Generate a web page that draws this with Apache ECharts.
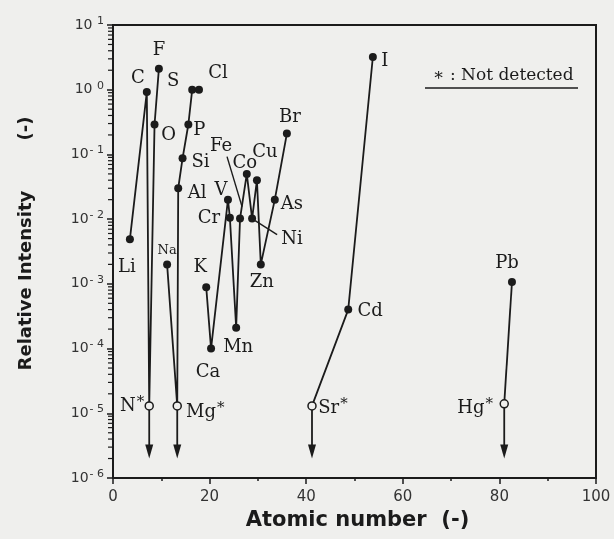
<!DOCTYPE html>
<html>
<head>
<meta charset="utf-8">
<script src="https://cdn.jsdelivr.net/npm/echarts@6/dist/echarts.min.js"></script>
<style>
html,body{margin:0;padding:0;background:#efefed;}
#chart{width:614px;height:539px;}
</style>
</head>
<body>
<div id="chart"></div>
<script>
// ---- data ----
const elements  = ['Li','C','N','O','F','Na','Mg','Al','Si','P','S','Cl','K','Ca','V','Cr','Mn','Fe','Co','Ni','Cu','Zn','As','Br','Sr','Cd','I','Hg','Pb'];
const atomicPos = [3.5,7.0,7.5,8.6,9.5,11.2,13.3,13.5,14.4,15.6,16.4,17.8,19.3,20.3,23.8,24.2,25.5,26.3,27.7,28.8,29.8,30.6,33.5,36.0,41.2,48.7,53.8,81.0,82.6];
const intensity = [4.9e-3,0.92,1.3e-5,0.29,2.1,2.0e-3,1.3e-5,0.030,0.087,0.29,1.0,1.0,8.9e-4,1.0e-4,0.020,0.0105,2.1e-4,0.0102,0.050,0.0102,0.040,2.0e-3,0.020,0.21,1.3e-5,4.0e-4,3.2,1.4e-5,1.07e-3];
const detected  = [1,1,0,1,1,1,0,1,1,1,1,1,1,1,1,1,1,1,1,1,1,1,1,1,0,1,1,0,1];
const chainId   = [0,0,0,0,0,1,1,1,1,1,1,1,2,2,2,2,2,2,2,2,2,2,2,2,3,3,3,4,4];
const arrowFloor = 2e-6;          // arrows of the "not detected" points end here
const xTicks = [0,20,40,60,80,100];
const yExponents = [-6,-5,-4,-3,-2,-1,0,1];

// ---- styling (label offsets in px) ----
const labelOffset = {Li:[-3,28],C:[-9,-14],N:[-17,0],O:[14,11],F:[0,-19],Na:[0,-14],Mg:[28,6],Al:[19,5],Si:[18,4],P:[11,6],
  S:[-19,-8],Cl:[19,-16],K:[-6,-20],Ca:[-3,24],V:[-7,-9],Cr:[-21,1],Mn:[2,20],Fe:[-19,-72],Co:[-2,-11],Ni:[40,21],
  Cu:[8,-28],Zn:[1,18],As:[17,5],Br:[3,-16],Sr:[21,2],Cd:[22,2],I:[12,4],Hg:[-29,4],Pb:[-5,-19]};
const leaders = {Fe:[[2,-12],[-13,-62]], Ni:[[3,2],[25,16]]};
const INK = '#1b1b1b', BG = '#efefed';
const serif = 'DejaVu Serif';

const chains = {};
elements.forEach((el,i)=>{
  const c = chainId[i];
  (chains[c] = chains[c] || []).push({
    name: el,
    value: [atomicPos[i], intensity[i]],
    symbolSize: 8,
    itemStyle: detected[i] ? {color: INK} : {color: BG, borderColor: INK, borderWidth: 1.5},
    label: {offset: labelOffset[el], fontSize: el === 'Na' ? 13 : 18}
  });
});

const lineSeries = Object.keys(chains).map(k => ({
  type: 'line',
  data: chains[k],
  symbol: 'circle',
  showAllSymbol: true,
  lineStyle: {color: INK, width: 1.8},
  z: 3,
  label: {
    show: true, position: 'inside', color: INK, fontFamily: serif, fontSize: 18,
    formatter: p => detected[elements.indexOf(p.name)] ? p.name : '{e|' + p.name + '}{st|*}',
    rich: {e: {fontFamily: serif, fontSize: 18, color: INK}, st: {fontFamily: serif, fontSize: 15, color: INK, padding: [0,0,7,1]}}
  }
}));

const arrowData = [];
elements.forEach((el,i)=>{ if(!detected[i]) arrowData.push([atomicPos[i], intensity[i], arrowFloor]); });

const minorVals = [];
for (let e=-6; e<1; e++) for (let m=2; m<=9; m++) minorVals.push([0, m*Math.pow(10,e)]);

const leaderData = Object.keys(leaders).map(el => {const i = elements.indexOf(el); return [atomicPos[i], intensity[i], i];});

const chart = echarts.init(document.getElementById('chart'), null, {renderer: 'canvas'});
chart.setOption({
  backgroundColor: BG,
  animation: false,
  grid: {left: 113, right: 18, top: 25, bottom: 61, show: true, borderColor: INK, borderWidth: 2},
  xAxis: {
    type: 'value', min: 0, max: 100, interval: 20,
    name: 'Atomic number  (-)', nameLocation: 'middle', nameGap: 31,
    nameTextStyle: {fontFamily: 'DejaVu Sans', fontWeight: 'bold', fontSize: 21, color: INK, padding: [0,0,0,6]},
    axisLine: {lineStyle: {color: INK, width: 2}},
    axisTick: {length: 6, lineStyle: {color: INK, width: 1.5}},
    minorTick: {show: true, splitNumber: 2, length: 3, lineStyle: {color: INK, width: 1.5}},
    splitLine: {show: false}, minorSplitLine: {show: false},
    axisLabel: {margin: 12, fontFamily: 'DejaVu Sans', fontSize: 15, color: '#333',
      formatter: v => xTicks.includes(v) ? String(v) : ''}
  },
  yAxis: {
    type: 'log', logBase: 10, min: 1e-6, max: 10, interval: 1,
    name: 'Relative Intensity        (-)', nameLocation: 'middle', nameGap: 78,
    nameTextStyle: {fontFamily: 'DejaVu Sans', fontWeight: 'bold', fontSize: 18, color: INK, padding: [0,0,0,16]},
    axisLine: {show: true, lineStyle: {color: INK, width: 2}},
    axisTick: {length: 6, lineStyle: {color: INK, width: 1.5}},
    splitLine: {show: false},
    axisLabel: {margin: 9, color: '#333',
      formatter: v => { const e = Math.round(Math.log10(v)); return yExponents.includes(e) ? '{b|10}{s|' + (e < 0 ? '- ' + (-e) : ' ' + e) + '}' : ''; },
      rich: {b: {fontFamily: 'DejaVu Sans', fontSize: 14, color: '#333'},
             s: {fontFamily: 'DejaVu Sans', fontSize: 11, color: '#333', padding: [0,0,8,1]}}}
  },
  graphic: [
    {type: 'text', left: 433, top: 67, style: {text: '\u2217 : Not detected', font: '17px "DejaVu Serif"', fill: INK}},
    {type: 'line', shape: {x1: 425, y1: 88, x2: 578, y2: 88}, style: {stroke: INK, lineWidth: 1.5}}
  ],
  series: [
    {
      type: 'custom', data: arrowData, z: 2, silent: true,
      encode: {x: 0, y: [1,2]},
      renderItem: (params, api) => {
        const top = api.coord([api.value(0), api.value(1)]);
        const tip = api.coord([api.value(0), api.value(2)]);
        return {type: 'group', children: [
          {type: 'line', shape: {x1: top[0], y1: top[1], x2: tip[0], y2: tip[1] - 10}, style: {stroke: INK, lineWidth: 1.8}},
          {type: 'polygon', shape: {points: [[tip[0]-4, tip[1]-14], [tip[0]+4, tip[1]-14], [tip[0], tip[1]]]}, style: {fill: INK}}
        ]};
      }
    },
    {
      type: 'custom', data: minorVals, z: 2, silent: true,
      encode: {x: 0, y: 1},
      renderItem: (params, api) => {
        const p = api.coord([api.value(0), api.value(1)]);
        return {type: 'line', shape: {x1: p[0] - 5, y1: p[1], x2: p[0], y2: p[1]}, style: {stroke: INK, lineWidth: 1.2}};
      }
    },
    {
      type: 'custom', data: leaderData, z: 2, silent: true,
      encode: {x: 0, y: 1},
      renderItem: (params, api) => {
        const p = api.coord([api.value(0), api.value(1)]);
        const L = leaders[elements[api.value(2)]];
        return {type: 'line', shape: {x1: p[0] + L[0][0], y1: p[1] + L[0][1], x2: p[0] + L[1][0], y2: p[1] + L[1][1]}, style: {stroke: INK, lineWidth: 1.4}};
      }
    }
  ].concat(lineSeries)
});
</script>
</body>
</html>
